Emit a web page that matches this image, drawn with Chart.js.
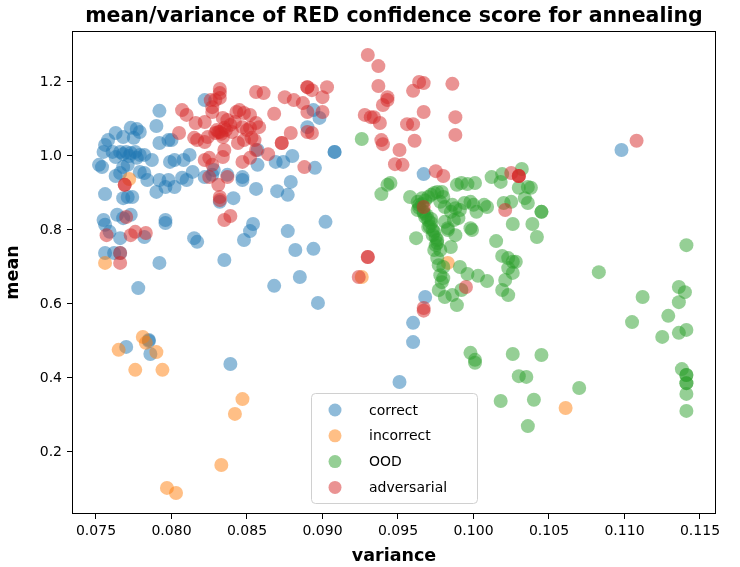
<!DOCTYPE html>
<html>
<head>
<meta charset="utf-8">
<script src="https://cdn.jsdelivr.net/npm/chart.js@4/dist/chart.umd.min.js"></script>
<style>
  html, body { margin: 0; padding: 0; background: #fff; }
  #wrap { width: 740px; height: 567px; }
</style>
</head>
<body>
<div id="wrap"><canvas id="chart" width="740" height="567"></canvas></div>
<script>
// values: [variance, mean]
const categories = ["correct", "incorrect", "OOD", "adversarial"];
const colors = ["31,119,180", "255,127,14", "44,160,44", "214,39,40"];
const chartTitle = "mean/variance of RED confidence score for annealing";

const correctPts = [
  [0.0792,1.122],[0.0790,1.081],[0.0777,1.073],[0.0779,1.065],[0.0773,1.076],[0.0763,1.062],[0.0768,1.051],[0.0775,1.049],[0.0758,1.043],[0.0756,1.030],
  [0.0755,1.011],[0.0752,0.976],[0.0754,0.970],[0.0761,1.011],[0.0766,1.011],[0.0770,1.011],[0.0773,1.008],[0.0776,1.011],[0.0779,1.003],[0.0763,0.997],
  [0.0768,0.970],[0.0771,0.976],[0.0782,1.003],[0.0787,0.989],[0.0792,1.035],[0.0798,1.043],[0.0800,1.043],[0.0799,0.984],[0.0802,0.989],[0.0808,0.989],
  [0.0812,1.003],[0.0766,0.954],[0.0763,0.946],[0.0779,0.957],[0.0782,0.954],[0.0784,0.935],[0.0792,0.935],[0.0798,0.935],[0.0796,0.916],[0.0790,0.903],
  [0.0807,0.941],[0.0810,0.935],[0.0822,0.943],[0.0814,0.957],[0.0756,0.897],[0.0768,0.886],[0.0771,0.889],[0.0774,0.889],[0.0764,0.841],[0.0755,0.827],
  [0.0773,0.841],[0.0796,0.827],[0.0822,1.151],[0.0827,0.949],[0.0768,1.005],[0.0772,1.000],[0.0777,0.995],
  [0.0828,0.962],[0.0837,0.949],[0.0847,0.943],[0.0857,0.976],[0.0869,0.984],[0.0874,0.984],[0.0880,1.000],[0.0857,1.016],[0.0890,1.078],
  [0.0894,1.124],[0.0898,1.103],[0.0895,0.968],[0.0908,1.011],[0.0908,1.011],[0.0879,0.930],[0.0856,0.911],[0.0870,0.905],[0.0877,0.895],[0.0841,0.886],
  [0.0832,0.876],[0.0802,0.916],
  [0.0756,0.814],[0.0768,0.832],[0.0759,0.795],[0.0766,0.778],[0.0782,0.781],[0.0796,0.819],[0.0815,0.778],[0.0817,0.768],[0.0848,0.773],
  [0.0756,0.738],[0.0762,0.738],[0.0766,0.738],[0.0792,0.711],[0.0835,0.719],[0.0778,0.643],[0.0785,0.503],[0.0785,0.500],[0.0770,0.484],[0.0786,0.465],[0.0839,0.438],
  [0.0847,0.935],[0.0854,0.816],[0.0852,0.797],[0.0877,0.797],[0.0902,0.822],[0.0882,0.746],[0.0894,0.749],[0.0885,0.673],[0.0868,0.649],[0.0897,0.603],
  [0.0967,0.951],[0.0968,0.619],[0.0960,0.549],[0.0960,0.497],[0.0951,0.389],[0.1098,1.016]
];

const incorrectPts = [
  [0.0772,0.938],[0.0756,0.711],[0.0781,0.511],[0.0783,0.495],[0.0765,0.476],[0.0790,0.470],[0.0776,0.422],[0.0794,0.422],
  [0.0847,0.343],[0.0842,0.303],[0.0833,0.165],[0.0797,0.103],[0.0803,0.089],[0.0926,0.673],[0.0983,0.711],[0.1061,0.319]
];

const oodPts = [
  [0.0926,1.046],[0.0939,0.897],[0.0943,0.922],[0.0945,0.927],[0.0958,0.889],
  [0.0989,0.922],[0.0992,0.927],[0.0996,0.924],[0.1001,0.927],[0.1012,0.943],[0.1019,0.951],[0.1018,0.930],[0.1032,0.965],
  [0.1030,0.914],[0.1036,0.916],[0.1038,0.914],[0.1034,0.886],[0.1036,0.873],[0.1045,0.849],[0.1045,0.849],[0.1039,0.816],[0.1042,0.781],
  [0.1020,0.873],[0.1025,0.876],[0.1026,0.816],[0.1015,0.770],[0.1019,0.730],[0.1023,0.724],[0.1026,0.714],[0.1028,0.714],
  [0.1023,0.697],[0.1026,0.684],[0.1021,0.665],[0.1019,0.638],[0.1023,0.624],[0.1009,0.662],[0.1003,0.676],[0.0996,0.681],[0.0991,0.700],
  [0.0992,0.638],[0.0986,0.624],[0.0989,0.597],[0.0981,0.619],[0.0977,0.638],[0.0978,0.678],[0.0980,0.670],[0.0979,0.659],
  [0.0977,0.705],[0.0980,0.700],[0.0976,0.724],[0.0985,0.754],[0.0988,0.786],[0.0983,0.805],[0.0983,0.800],
  [0.0976,0.773],[0.0975,0.759],[0.0974,0.746],[0.0978,0.746],[0.0974,0.795],[0.0973,0.786],[0.0970,0.808],[0.0972,0.819],
  [0.0970,0.827],[0.0968,0.835],[0.0967,0.846],[0.0963,0.854],[0.0964,0.868],[0.0963,0.876],[0.0966,0.886],[0.0970,0.889],
  [0.0972,0.895],[0.0974,0.900],[0.0976,0.903],[0.0979,0.903],[0.0980,0.889],[0.0978,0.876],[0.0981,0.862],[0.0986,0.868],
  [0.0988,0.859],[0.0985,0.849],[0.0991,0.854],[0.0990,0.832],[0.0994,0.873],[0.0998,0.876],[0.1000,0.868],[0.1002,0.849],
  [0.1007,0.868],[0.1009,0.862],[0.0998,0.805],[0.0999,0.800],[0.0987,0.827],[0.0981,0.822],[0.0962,0.778],
  [0.0964,0.860],[0.0967,0.850],[0.0969,0.840],[0.0966,0.870],[0.0968,0.880],[0.0971,0.810],[0.0973,0.800],[0.0975,0.780],[0.0976,0.765],[0.0972,0.830],
  [0.1141,0.759],[0.1083,0.686],[0.1136,0.646],[0.1140,0.632],[0.1112,0.619],[0.1136,0.605],[0.1129,0.568],[0.1105,0.551],
  [0.1141,0.530],[0.1136,0.522],[0.1125,0.511],[0.1138,0.424],[0.1141,0.408],[0.1141,0.408],[0.1141,0.386],[0.1141,0.386],
  [0.1141,0.357],[0.1141,0.311],[0.0998,0.468],[0.1001,0.449],[0.1001,0.441],[0.1026,0.465],[0.1045,0.462],[0.1030,0.405],
  [0.1035,0.403],[0.1070,0.373],[0.1018,0.338],[0.1040,0.341],[0.1036,0.270]
];

const advPts = [
  [0.0930,1.273],[0.0937,1.243],[0.0937,1.189],[0.0964,1.200],[0.0967,1.197],[0.0960,1.176],[0.0986,1.195],[0.0943,1.159],[0.0943,1.151],[0.0940,1.138],
  [0.0967,1.119],[0.0928,1.111],[0.0932,1.105],[0.0934,1.105],[0.0938,1.089],[0.0988,1.105],[0.0956,1.086],[0.0960,1.086],[0.0988,1.057],[0.0939,1.043],
  [0.0940,1.032],[0.0961,1.041],[0.0951,1.016],[0.0948,0.978],[0.0953,0.976],[0.0975,0.959],[0.0980,0.946],
  [0.1025,0.954],[0.1030,0.946],[0.1030,0.946],[0.1030,0.946],[0.1021,0.854],[0.0995,0.646],[0.0967,0.589],[0.0967,0.582],[0.0967,0.862],
  [0.0807,1.124],[0.0810,1.111],[0.0816,1.089],[0.0822,1.092],[0.0805,1.062],[0.0817,1.043],[0.0822,1.038],[0.0824,1.051],[0.0822,0.989],[0.0825,0.995],
  [0.0769,0.922],[0.0769,0.922],[0.0770,0.835],[0.0825,0.943],[0.0832,0.889],[0.0829,1.151],[0.0832,1.170],
  [0.0832,1.181],[0.0826,1.151],[0.0832,1.157],[0.0827,1.132],[0.0827,1.119],[0.0815,1.049],
  [0.0834,1.103],[0.0837,1.097],[0.0843,1.119],[0.0845,1.124],[0.0848,1.116],[0.0852,1.111],[0.0856,1.089],[0.0858,1.078],
  [0.0830,1.070],[0.0832,1.065],[0.0835,1.076],[0.0839,1.084],[0.0842,1.092],[0.0847,1.078],[0.0850,1.070],[0.0852,1.076],[0.0834,1.051],
  [0.0829,1.062],[0.0831,1.065],[0.0833,1.060],[0.0836,1.070],[0.0840,1.065],
  [0.0844,1.035],[0.0848,1.043],[0.0853,1.049],[0.0855,1.043],[0.0835,1.016],[0.0834,0.997],[0.0827,0.976],[0.0847,0.984],[0.0852,0.995],
  [0.0864,1.005],[0.0873,1.035],[0.0873,1.035],[0.0879,1.062],[0.0868,1.114],[0.0856,1.173],[0.0861,1.170],[0.0875,1.159],[0.0881,1.151],
  [0.0887,1.143],[0.0890,1.186],[0.0890,1.186],[0.0893,1.178],[0.0900,1.159],[0.0903,1.186],[0.0890,1.119],[0.0900,1.119],[0.0890,1.065],
  [0.0893,1.062],[0.0888,0.970],[0.0831,0.922],[0.0837,0.943],[0.0856,1.016],
  [0.0757,0.786],[0.0773,0.786],[0.0776,0.795],[0.0783,0.792],[0.0766,0.738],[0.0766,0.711],[0.0835,0.827],[0.0839,0.838],[0.0832,0.881],
  [0.0930,0.727],[0.0930,0.727],[0.0924,0.673],[0.1108,1.041]
];

const seriesPts = [correctPts, incorrectPts, oodPts, advPts];

const xTicks = [0.075, 0.080, 0.085, 0.090, 0.095, 0.100, 0.105, 0.110, 0.115];
const xTickLabels = ["0.075", "0.080", "0.085", "0.090", "0.095", "0.100", "0.105", "0.110", "0.115"];
const yTicks = [0.2, 0.4, 0.6, 0.8, 1.0, 1.2];
const yTickLabels = ["0.2", "0.4", "0.6", "0.8", "1.0", "1.2"];

const FONT = "'DejaVu Sans', sans-serif";

// title over the axes, full box around the plot, legend in the lower middle
const framePlugin = {
  id: "frame",
  afterDraw(chart) {
    const { ctx, chartArea: a } = chart;
    ctx.save();
    ctx.strokeStyle = "#000";
    ctx.lineWidth = 1;
    ctx.strokeRect(Math.round(a.left) + 0.5, Math.round(a.top) + 0.5,
      Math.round(a.right - a.left) - 1, Math.round(a.bottom - a.top) - 1);

    ctx.fillStyle = "#000";
    ctx.font = "bold 20.5px " + FONT;
    ctx.textAlign = "center";
    ctx.textBaseline = "alphabetic";
    ctx.fillText(chartTitle, (a.left + a.right) / 2, 22);

    // legend box
    const bx = 311.5, by = 393.5, bw = 166, bh = 110, r = 4;
    ctx.beginPath();
    ctx.moveTo(bx + r, by);
    ctx.arcTo(bx + bw, by, bx + bw, by + bh, r);
    ctx.arcTo(bx + bw, by + bh, bx, by + bh, r);
    ctx.arcTo(bx, by + bh, bx, by, r);
    ctx.arcTo(bx, by, bx + bw, by, r);
    ctx.closePath();
    ctx.fillStyle = "rgba(255,255,255,0.8)";
    ctx.fill();
    ctx.strokeStyle = "#d0d0d0";
    ctx.stroke();

    ctx.font = "14px " + FONT;
    ctx.textBaseline = "middle";
    ctx.textAlign = "left";
    chart.data.datasets.forEach((ds, i) => {
      const y = 410 + i * 25.8;
      ctx.beginPath();
      ctx.arc(335, y, 6.5, 0, Math.PI * 2);
      ctx.fillStyle = ds.backgroundColor;
      ctx.fill();
      ctx.fillStyle = "#000";
      ctx.fillText(ds.label, 369, y + 1);
    });
    ctx.restore();
  }
};

const datasets = categories.map((name, i) => ({
  label: name,
  data: seriesPts[i].map(p => ({ x: p[0], y: p[1] })),
  backgroundColor: `rgba(${colors[i]},0.5)`,
  borderWidth: 0,
  pointRadius: 7,
  pointHoverRadius: 7,
  order: categories.length - i
}));

new Chart(document.getElementById("chart"), {
  type: "scatter",
  data: { datasets },
  plugins: [framePlugin],
  options: {
    responsive: false,
    animation: false,
    events: [],
    layout: { padding: { left: 0, right: 24, top: 31, bottom: 0 } },
    plugins: {
      legend: { display: false },
      tooltip: { enabled: false },
      title: { display: false }
    },
    scales: {
      x: {
        type: "linear",
        min: 0.073411,
        max: 0.116060,
        afterBuildTicks: s => { s.ticks = xTicks.map(v => ({ value: v })); },
        afterFit: s => { s.height = 53; },
        ticks: {
          color: "#000",
          font: { family: FONT, size: 14 },
          padding: 4,
          maxRotation: 0,
          autoSkip: false,
          callback: (v, i) => xTickLabels[i]
        },
        grid: { drawOnChartArea: false, drawTicks: true, tickLength: 5, tickColor: "#000" },
        border: { display: false },
        title: {
          display: true,
          text: "variance",
          color: "#000",
          font: { family: FONT, size: 17.5, weight: "bold" },
          padding: { top: -1, bottom: 0 }
        }
      },
      y: {
        type: "linear",
        min: 0.0324,
        max: 1.3378,
        afterBuildTicks: s => { s.ticks = yTicks.map(v => ({ value: v })); },
        afterFit: s => { s.width = 72; },
        ticks: {
          color: "#000",
          font: { family: FONT, size: 14 },
          padding: 5,
          autoSkip: false,
          callback: (v, i) => yTickLabels[i]
        },
        grid: { drawOnChartArea: false, drawTicks: true, tickLength: 5, tickColor: "#000" },
        border: { display: false },
        title: {
          display: true,
          text: "mean",
          color: "#000",
          font: { family: FONT, size: 17.5, weight: "bold" },
          padding: { top: 3, bottom: 0 }
        }
      }
    }
  }
});
</script>
</body>
</html>
